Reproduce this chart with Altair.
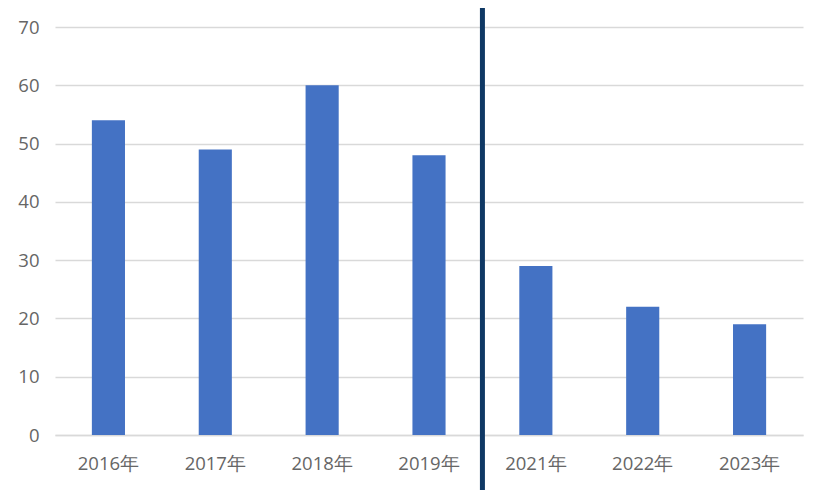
import altair as alt
import pandas as pd

years = ["2016年", "2017年", "2018年", "2019年", "2021年", "2022年", "2023年"]
values = [54, 49, 60, 48, 29, 22, 19]
divider_after = ["2019年"]

df = pd.DataFrame({"year": years, "value": values})
div_df = pd.DataFrame({"year": divider_after})

W, H = 748, 408
x_scale = alt.Scale(domain=years, paddingInner=0.69, paddingOuter=0.345)

bars = alt.Chart(df).mark_bar(color="#4472C4").encode(
    x=alt.X("year:N", sort=years, scale=x_scale, title=None,
            axis=alt.Axis(labelAngle=0, labelPadding=19, ticks=False, domain=True,
                          domainColor="#D9D9D9", domainWidth=1.5,
                          labelFont="Open Sans", labelFontSize=18.5, labelColor="#666666")),
    y=alt.Y("value:Q", scale=alt.Scale(domain=[0, 70]), title=None,
            axis=alt.Axis(values=[0, 10, 20, 30, 40, 50, 60, 70], ticks=False, domain=False,
                          gridColor="#D9D9D9", gridWidth=1.5, labelPadding=16,
                          labelFont="Open Sans", labelFontSize=18.5, labelColor="#666666")),
)

step = W / (len(years) - 0.69 + 2 * 0.345)
divider = alt.Chart(div_df).mark_rule(color="#0F3864", strokeWidth=5, xOffset=step / 2).encode(
    x=alt.X("year:N", sort=years, scale=x_scale),
    y=alt.value(-19),
    y2=alt.value(H + 60),
)

chart = alt.layer(bars, divider).properties(
    width=W, height=H,
    background="white",
    autosize=alt.AutoSizeParams(type="none"),
    padding={"left": 47, "top": 19, "right": 17, "bottom": 55},
).configure_view(stroke=None)

chart.save("out.html", embed_options={"renderer": "svg", "actions": False})
